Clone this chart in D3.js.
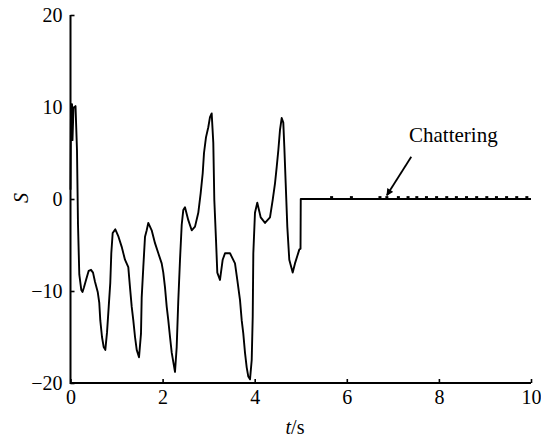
<!DOCTYPE html>
<html>
<head>
<meta charset="utf-8">
<script src="https://cdn.jsdelivr.net/npm/d3@7/dist/d3.min.js"></script>
<style>
  html, body { margin: 0; padding: 0; background: #fff; }
  svg { display: block; }
  svg text { font-family: 'Liberation Serif', serif; }
</style>
</head>
<body>
<svg id="chart" width="541" height="437"></svg>
<script>
// ---- data ----
const tValues = [0, 0.011, 0.033, 0.043, 0.065, 0.109, 0.141, 0.163, 0.191, 0.235, 0.261, 0.293, 0.337, 0.395, 0.445, 0.489,
  0.532, 0.591, 0.625, 0.647, 0.684, 0.721, 0.756, 0.793, 0.830, 0.864, 0.886, 0.916, 0.973, 1.042, 1.112, 1.183,
  1.255, 1.292, 1.329, 1.364, 1.401, 1.438, 1.488, 1.531, 1.546, 1.581, 1.618, 1.655, 1.689, 1.763, 1.835, 1.907,
  1.980, 2.015, 2.052, 2.089, 2.124, 2.161, 2.198, 2.269, 2.306, 2.341, 2.378, 2.415, 2.449, 2.486, 2.558, 2.632,
  2.704, 2.775, 2.827, 2.871, 2.899, 2.942, 2.992, 3.029, 3.066, 3.101, 3.123, 3.160, 3.188, 3.246, 3.305, 3.355,
  3.464, 3.572, 3.622, 3.681, 3.718, 3.752, 3.789, 3.826, 3.861, 3.898, 3.935, 3.957, 3.970, 4.006, 4.056, 4.130,
  4.224, 4.332, 4.391, 4.441, 4.478, 4.513, 4.549, 4.586, 4.621, 4.643, 4.673, 4.708, 4.751, 4.825, 4.875, 4.925,
  4.968, 4.995, 5.0, 10.0];
const sValues = [1.0, 10.3, 10.3, 6.4, 9.9, 10.1, 5.3, -2.8, -8.2, -9.9, -10.1, -9.6, -8.8, -7.8, -7.7, -8.0,
  -9.0, -10.1, -11.3, -13.2, -15.0, -16.1, -16.4, -14.5, -11.7, -9.1, -5.9, -3.7, -3.3, -4.1, -5.2, -6.6,
  -7.4, -9.6, -11.7, -13.2, -15.0, -16.4, -17.2, -14.6, -10.7, -7.4, -4.1, -3.4, -2.6, -3.4, -4.8, -5.9,
  -7.0, -8.0, -9.6, -11.7, -13.2, -15.0, -16.7, -18.8, -16.1, -11.0, -6.6, -2.8, -1.2, -0.9, -2.3, -3.4,
  -3.0, -1.5, 0.65, 2.8, 5.0, 6.7, 7.8, 8.9, 9.3, 6.1, -0.1, -4.5, -8.0, -8.8, -6.6, -5.9,
  -5.9, -7.0, -8.8, -11.0, -13.2, -14.6, -16.7, -18.3, -19.3, -19.6, -17.5, -12.8, -5.9, -1.5, -0.4, -2.0,
  -2.6, -2.0, -0.1, 1.7, 3.5, 5.3, 7.5, 8.8, 8.3, 5.7, 1.7, -3.0, -6.6, -8.0, -7.0, -6.2,
  -5.5, -5.4, 0, 0];
// small chattering blips on the zero line after t = 5 s
const chatterT = [5.67, 6.10, 6.72, 6.87, 7.12, 7.33, 7.52, 7.73, 7.95, 8.17, 8.38, 8.60, 8.82, 9.04, 9.25, 9.47, 9.69, 9.91];
const chatterS = 0.15;
const xTicks = [0, 2, 4, 6, 8, 10];
const yTicks = [-20, -10, 0, 10, 20];
const annotation = "Chattering";
const arrowFrom = [7.4, 4.6];   // data coords of arrow tail
const arrowTo = [6.87, 0.4];    // data coords of arrow tip

// ---- layout ----
const FONT = "Liberation Serif";
const svg = d3.select("#chart").attr("font-family", FONT);
const x = d3.scaleLinear().domain([0, 10]).range([70.5, 531]);
const y = d3.scaleLinear().domain([-20, 20]).range([383, 15]);

const fmt = d => d < 0 ? "\u2212" + Math.abs(d) : String(d);

const xAxis = d3.axisBottom(x).tickValues(xTicks).tickSize(-4).tickPadding(8).tickFormat(fmt);
const yAxis = d3.axisLeft(y).tickValues(yTicks).tickSize(-4).tickPadding(8).tickFormat(fmt);

const gx = svg.append("g").attr("transform", `translate(0,${y(-20)})`).call(xAxis);
const gy = svg.append("g").attr("transform", `translate(${x(0)},0)`).call(yAxis);
[gx, gy].forEach(g => {
  g.attr("font-family", FONT).attr("font-size", 20);
  g.select(".domain").remove();
  g.selectAll(".tick line").attr("stroke", "#000").attr("stroke-width", 1.6);
  g.selectAll(".tick text").attr("fill", "#000");
});
gx.selectAll(".tick text").attr("y", 7);
svg.append("line").attr("x1", x(0)).attr("x2", x(10)).attr("y1", y(-20)).attr("y2", y(-20))
  .attr("stroke", "#000").attr("stroke-width", 2);
svg.append("line").attr("x1", x(0)).attr("x2", x(0)).attr("y1", y(-20) + 1).attr("y2", y(20))
  .attr("stroke", "#000").attr("stroke-width", 2);

// data line
const pts = tValues.map((t, i) => [t, sValues[i]]);
const line = d3.line().x(d => x(d[0])).y(d => y(d[1])).curve(d3.curveLinear);
svg.append("path").datum(pts).attr("d", line)
  .attr("fill", "none").attr("stroke", "#000").attr("stroke-width", 1.9).attr("stroke-linejoin", "round");

// chattering blips
svg.append("g").selectAll("rect").data(chatterT).join("rect")
  .attr("x", d => x(d) - 1.5).attr("width", 3)
  .attr("y", y(chatterS) - 1.5).attr("height", y(0) - y(chatterS) + 1.5)
  .attr("fill", "#000");

// annotation
svg.append("text").attr("x", 409).attr("y", 142).attr("font-size", 21).text(annotation);
svg.append("defs").append("marker").attr("id", "ah").attr("viewBox", "0 0 10 10")
  .attr("refX", 9).attr("refY", 5).attr("markerWidth", 9).attr("markerHeight", 7)
  .attr("markerUnits", "userSpaceOnUse").attr("orient", "auto")
  .append("path").attr("d", "M0,0 L10,5 L0,10 Z").attr("fill", "#000");
svg.append("line")
  .attr("x1", x(arrowFrom[0])).attr("y1", y(arrowFrom[1]))
  .attr("x2", x(arrowTo[0])).attr("y2", y(arrowTo[1]))
  .attr("stroke", "#000").attr("stroke-width", 1.8).attr("marker-end", "url(#ah)");

// axis labels
const xl = svg.append("text").attr("x", 295).attr("y", 434).attr("text-anchor", "middle").attr("font-size", 20);
xl.append("tspan").attr("font-style", "italic").text("t");
xl.append("tspan").text("/s");
svg.append("text").attr("transform", "translate(28,198) rotate(-90)").attr("text-anchor", "middle")
  .attr("font-size", 20).attr("font-style", "italic").text("S");
</script>
</body>
</html>
